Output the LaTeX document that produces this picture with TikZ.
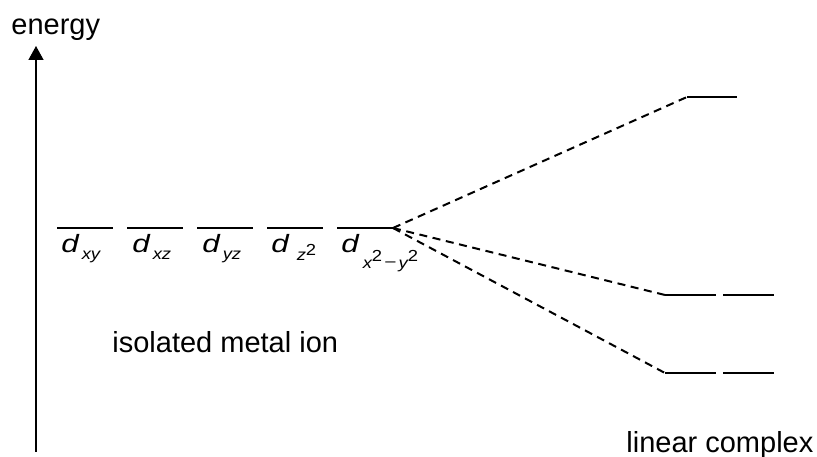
\documentclass[tikz,border=0pt]{standalone}
\usepackage{fontspec}
\setmainfont{Liberation Sans}
\usepackage{graphicx}
\usetikzlibrary{arrows.meta}
\newcommand\bigF{\fontsize{14.5bp}{17bp}\selectfont}
\newcommand\dd{\scalebox{1.25}[1]{\fontsize{12.5bp}{14bp}\selectfont\itshape d}}
\newcommand\sub[2]{\raisebox{-#1}{\scalebox{1.15}[1]{\fontsize{8bp}{9bp}\selectfont\itshape #2}}}
\newcommand\supr[2]{\raisebox{-#1}{\scalebox{1.15}[1]{\fontsize{8bp}{9bp}\selectfont #2}}}
\begin{document}
\begin{tikzpicture}[x=0.5bp,y=-0.5bp,
  level/.style={line width=1.25bp},
  split/.style={line width=1bp,dash pattern=on 4bp off 2.8bp},
  lbl/.style={inner sep=0,anchor=base west},
  axis/.style={line width=0.65bp,-{Triangle[width=7.5bp,length=7bp]}}]
\useasboundingbox (0,0) rectangle (817,457);
% axis
\coordinate (ax0) at (36,452);
\coordinate (ax1) at (36,46);
\draw[axis] (ax0) -- (ax1);
\node[lbl] (energy) at (11,35) {\bigF energy};
% free ion levels
\foreach \i/\s in {1/57,2/127,3/197,4/267,5/337}{
  \coordinate (L\i a) at (\s,228);
  \coordinate (L\i b) at (\s+56,228);
  \draw[level] (L\i a) -- (L\i b);
}
% labels
\node[lbl] (d1) at (61,253) {\dd\hspace{1.5bp}\sub{3.5bp}{xy}};
\node[lbl] (d2) at (132,253) {\dd\hspace{1.5bp}\sub{3.5bp}{xz}};
\node[lbl] (d3) at (202,253) {\dd\hspace{1.5bp}\sub{3.5bp}{yz}};
\node[lbl] (d4) at (271,253) {\dd\hspace{4bp}\sub{4bp}{z}\supr{1.5bp}{2}};
\node[lbl] (d5) at (341,253) {\dd\hspace{2bp}\sub{8bp}{x}\supr{4.5bp}{2}\supr{7bp}{\,–\,}\sub{8bp}{y}\supr{4.5bp}{2}};
\node[lbl] (ion) at (112,353) {\bigF isolated metal ion};
% complex levels
\coordinate (T1) at (687,97);
\coordinate (T2) at (737,97);
\draw[level] (T1) -- (T2);
\foreach \n/\y in {M/295,B/373}{
  \coordinate (\n1) at (665,\y);
  \coordinate (\n2) at (716,\y);
  \coordinate (\n3) at (723,\y);
  \coordinate (\n4) at (774,\y);
  \draw[level] (\n1) -- (\n2);
  \draw[level] (\n3) -- (\n4);
}
\node[lbl] (lin) at (626,453) {\bigF linear complex};
% correlation lines
\draw[split] (L5b) -- (T1);
\draw[split] (L5b) -- (M1);
\draw[split] (L5b) -- (B1);
\end{tikzpicture}
\end{document}
